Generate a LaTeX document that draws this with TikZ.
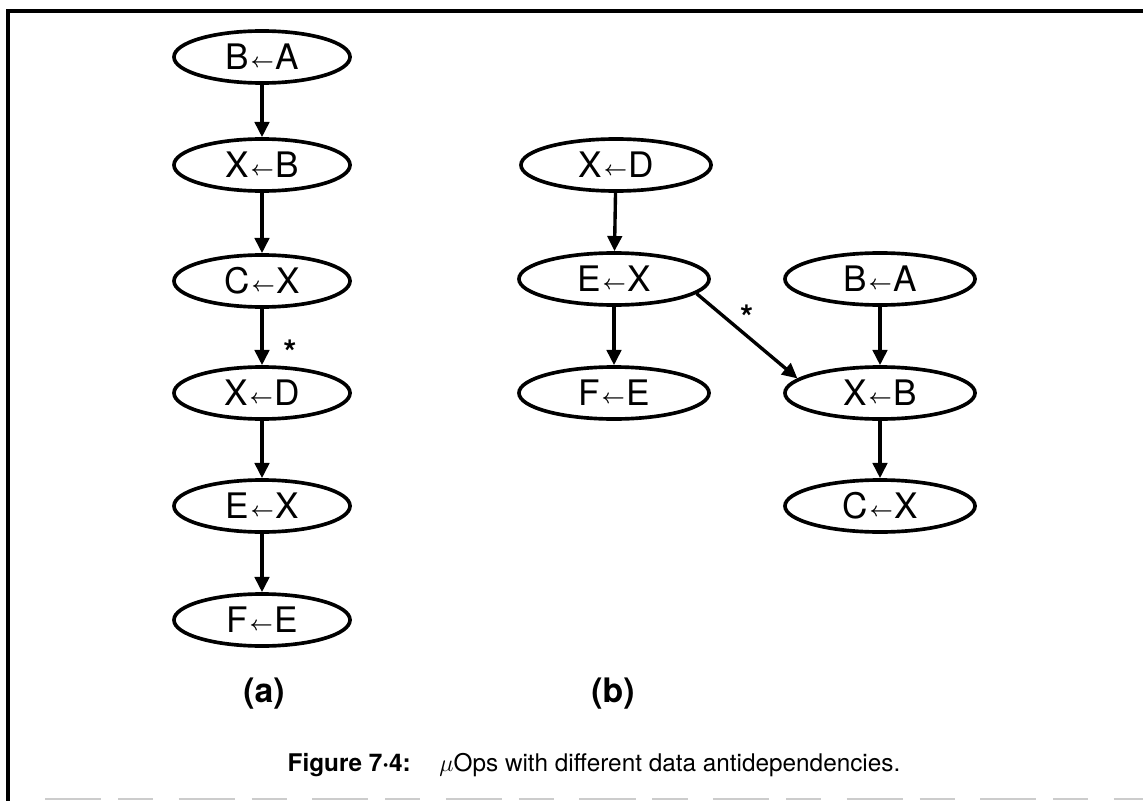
\documentclass[tikz,border=0pt]{standalone}
\usepackage{fontspec}
\setmainfont{TeX Gyre Heros}
\usetikzlibrary{shapes.geometric,arrows.meta}
\tikzset{
  op/.style={ellipse, draw, line width=2.6pt, inner sep=0pt,
    minimum width=4.4cm, minimum height=1.3cm, font=\fontsize{25}{25}\selectfont},
  wideop/.style={op, minimum width=4.75cm},
  dep/.style={line width=2.4pt, -{Triangle[length=0.38cm,width=0.36cm]}},
  star/.style={font=\bfseries\fontsize{24}{24}\selectfont, inner sep=0pt},
  sub/.style={font=\bfseries\fontsize{24}{24}\selectfont},
  frame/.style={line width=3.2pt}
}
% assignment label: target, small bold left arrow, source
\newcommand{\asg}[2]{#1\kern0.06em{\raisebox{0.14ex}{\fontsize{15}{15}\selectfont\boldmath$\leftarrow$}}\kern0.04em#2}
\begin{document}
\begin{tikzpicture}[x=0.025cm,y=-0.025cm]
  \useasboundingbox (0,0) rectangle (1143,801);
  % frame
  \coordinate (fb) at (8,801);
  \coordinate (ftl) at (8,11);
  \coordinate (ftr) at (1143,11);
  \draw[frame] (fb) -- (ftl) -- (ftr);
  \coordinate (bl) at (45,799);
  \coordinate (br) at (1143,799);
  \draw[line width=1.2pt, gray!40, dash pattern=on 40pt off 12pt on 25pt off 18pt] (bl) -- (br);

  % (a) chain
  \node[op] (a1) at (262,57)  {\asg{B}{A}};
  \node[op] (a2) at (262,165) {\asg{X}{B}};
  \node[op] (a3) at (262,281) {\asg{C}{X}};
  \node[op] (a4) at (262,393) {\asg{X}{D}};
  \node[op] (a5) at (262,506) {\asg{E}{X}};
  \node[op] (a6) at (262,620) {\asg{F}{E}};
  \draw[dep] (a1) -- (a2);
  \draw[dep] (a2) -- (a3);
  \draw[dep] (a3) -- (a4);
  \draw[dep] (a4) -- (a5);
  \draw[dep] (a5) -- (a6);
  \node[star] (sa) at (290,352) {*};

  % (b) graph
  \node[wideop] (b1) at (616,165) {\asg{X}{D}};
  \node[wideop] (b2) at (614,279) {\asg{E}{X}};
  \node[wideop] (b3) at (614,393) {\asg{F}{E}};
  \node[wideop] (b4) at (880,279) {\asg{B}{A}};
  \node[wideop] (b5) at (880,393) {\asg{X}{B}};
  \node[wideop] (b6) at (880,506) {\asg{C}{X}};
  \draw[dep] (b1) -- (b2);
  \draw[dep] (b2) -- (b3);
  \draw[dep] (b4) -- (b5);
  \draw[dep] (b5) -- (b6);
  \draw[dep] (b2.-10) -- node[star, pos=0.4, xshift=7pt, yshift=7pt] (sb) {*} (b5.170);

  % sub-captions
  \node[sub] (la) at (264,694) {(a)};
  \node[sub] (lb) at (613,694) {(b)};

  % caption
  \node[font=\fontsize{17.3}{17.3}\selectfont] (cap) at (594,765)
    {\textbf{Figure 7·4:}\hspace{0.8em} $\mu$Ops with different data antidependencies.};
\end{tikzpicture}
\end{document}
